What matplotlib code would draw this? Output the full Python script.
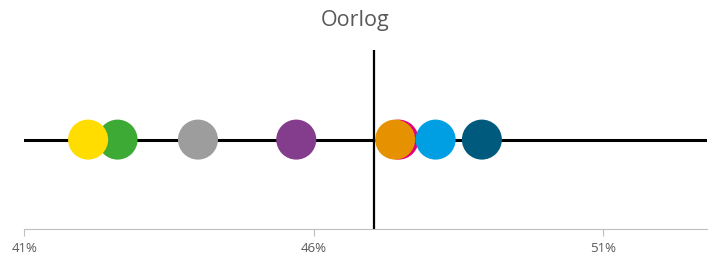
import matplotlib.pyplot as plt

# Data
partijen = ['pink', 'orange', 'green', 'yellow', 'gray', 'purple', 'cyan', 'darkblue']
waarden = [47.47, 47.41, 42.61, 42.10, 44.00, 45.70, 48.11, 48.91]
kleuren = ['#E5007D', '#E69100', '#3DAA35', '#FFDD00', '#9D9D9D', '#843C8C', '#009FE3', '#005A7D']
gemiddelde = 47.04
ticks = [41, 46, 51]
tick_labels = ['41%', '46%', '51%']

plt.rcParams['font.family'] = ['Open Sans', 'DejaVu Sans']

fig = plt.figure(figsize=(7.1, 2.59), dpi=100)
ax = fig.add_axes([0.0345, 0.115, 0.961, 0.692])

# horizontale lijn en gemiddelde
ax.axhline(1, color='black', lw=2.2, zorder=1)
ax.axvline(gemiddelde, color='black', lw=1.6, zorder=1)
for w, k in zip(waarden, kleuren):
    ax.scatter([w], [1], s=830, color=k, edgecolors='none', zorder=3)

ax.set_xlim(41, 52.8)
ax.set_ylim(0, 2)
ax.set_xticks(ticks)
ax.set_xticklabels(tick_labels, color='#595959', fontsize=9.5)
ax.set_yticks([])
for s in ['top', 'right', 'left']:
    ax.spines[s].set_visible(False)
ax.spines['bottom'].set_color('#BFBFBF')
ax.tick_params(axis='x', length=5, color='#BFBFBF', pad=4)

fig.text(0.5, 0.92, 'Oorlog', ha='center', va='center', fontsize=15.5, color='#595959')

fig.savefig('out.png', dpi=100)
